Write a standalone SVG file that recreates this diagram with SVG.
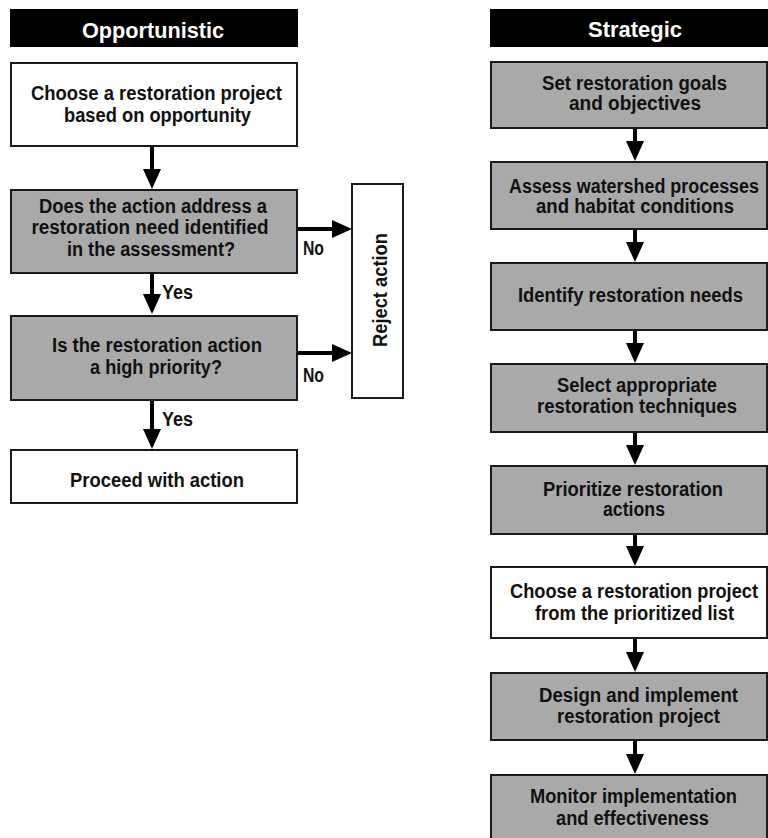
<svg xmlns="http://www.w3.org/2000/svg" width="768" height="838" viewBox="0 0 768 838">
  <style>
    text { font-family: "Liberation Sans", Arial, sans-serif; font-weight: bold; font-size: 20px; fill: #111; }
    .hdr-bg { fill: #000; }
    .hdr { fill: #fff; font-size: 22.5px; text-anchor: middle; }
    .box { stroke: #1a1a1a; stroke-width: 2; }
    .white { fill: #fff; }
    .gray { fill: #a9a9a9; }
    .c { text-anchor: middle; }
    .conn { stroke: #000; stroke-width: 4; fill: none; }
  </style>
  <defs>
    <marker id="arrow" viewBox="0 0 20 18" markerWidth="20" markerHeight="18" refX="1" refY="9" orient="auto" markerUnits="userSpaceOnUse">
      <path d="M0,0 L20,9 L0,18 Z" fill="#000"/>
    </marker>
  </defs>
  <rect width="768" height="838" fill="#fff"/>

  <!-- column headers -->
  <g id="hdr-opportunistic">
    <rect class="hdr-bg" x="10" y="9" width="288" height="38"/>
    <text class="hdr" x="153" y="38" textLength="142" lengthAdjust="spacingAndGlyphs">Opportunistic</text>
  </g>
  <g id="hdr-strategic">
    <rect class="hdr-bg" x="490" y="9" width="278" height="38"/>
    <text class="hdr" x="635" y="37" textLength="94" lengthAdjust="spacingAndGlyphs">Strategic</text>
  </g>

  <!-- connectors -->
  <g id="connectors">
    <line class="conn" x1="152" y1="146" x2="152" y2="170" marker-end="url(#arrow)"/>
    <line class="conn" x1="152" y1="273" x2="152" y2="295" marker-end="url(#arrow)"/>
    <line class="conn" x1="152" y1="400" x2="152" y2="430" marker-end="url(#arrow)"/>
    <line class="conn" x1="297" y1="229" x2="333" y2="229" marker-end="url(#arrow)"/>
    <line class="conn" x1="297" y1="353" x2="333" y2="353" marker-end="url(#arrow)"/>
    <text x="303" y="255" textLength="21" lengthAdjust="spacingAndGlyphs">No</text>
    <text x="303" y="382" textLength="21" lengthAdjust="spacingAndGlyphs">No</text>
    <text x="162" y="299" textLength="31" lengthAdjust="spacingAndGlyphs">Yes</text>
    <text x="162" y="426" textLength="31" lengthAdjust="spacingAndGlyphs">Yes</text>

    <line class="conn" x1="635" y1="128" x2="635" y2="142" marker-end="url(#arrow)"/>
    <line class="conn" x1="635" y1="229" x2="635" y2="243" marker-end="url(#arrow)"/>
    <line class="conn" x1="635" y1="330" x2="635" y2="344" marker-end="url(#arrow)"/>
    <line class="conn" x1="635" y1="432" x2="635" y2="446" marker-end="url(#arrow)"/>
    <line class="conn" x1="635" y1="534" x2="635" y2="547" marker-end="url(#arrow)"/>
    <line class="conn" x1="635" y1="638" x2="635" y2="653" marker-end="url(#arrow)"/>
    <line class="conn" x1="635" y1="740" x2="635" y2="755" marker-end="url(#arrow)"/>
  </g>

  <!-- opportunistic column -->
  <g id="o-choose">
    <rect class="box white" x="11" y="63" width="286" height="83"/>
    <text class="c" x="156.5" y="100" textLength="251" lengthAdjust="spacingAndGlyphs">Choose a restoration project</text>
    <text class="c" x="157.5" y="122" textLength="187" lengthAdjust="spacingAndGlyphs">based on opportunity</text>
  </g>
  <g id="o-address">
    <rect class="box gray" x="11" y="190" width="286" height="83"/>
    <text class="c" x="153" y="213" textLength="228" lengthAdjust="spacingAndGlyphs">Does the action address a</text>
    <text class="c" x="150" y="234" textLength="237" lengthAdjust="spacingAndGlyphs">restoration need identified</text>
    <text class="c" x="151" y="256" textLength="168" lengthAdjust="spacingAndGlyphs">in the assessment?</text>
  </g>
  <g id="o-priority">
    <rect class="box gray" x="11" y="316" width="286" height="84"/>
    <text class="c" x="157" y="352" textLength="210" lengthAdjust="spacingAndGlyphs">Is the restoration action</text>
    <text class="c" x="156" y="374" textLength="132" lengthAdjust="spacingAndGlyphs">a high priority?</text>
  </g>
  <g id="o-proceed">
    <rect class="box white" x="11" y="450" width="286" height="53"/>
    <text class="c" x="157" y="487" textLength="174" lengthAdjust="spacingAndGlyphs">Proceed with action</text>
  </g>
  <g id="o-reject">
    <rect class="box white" x="352" y="184" width="51" height="214"/>
    <text class="c" transform="translate(387 290) rotate(-90)" x="0" y="0" textLength="114" lengthAdjust="spacingAndGlyphs">Reject action</text>
  </g>

  <!-- strategic column -->
  <g id="s-goals">
    <rect class="box gray" x="491" y="62" width="276" height="66"/>
    <text class="c" x="634.5" y="90" textLength="185" lengthAdjust="spacingAndGlyphs">Set restoration goals</text>
    <text class="c" x="635" y="110" textLength="132" lengthAdjust="spacingAndGlyphs">and objectives</text>
  </g>
  <g id="s-assess">
    <rect class="box gray" x="491" y="162" width="276" height="67"/>
    <text class="c" x="634" y="193" textLength="250" lengthAdjust="spacingAndGlyphs">Assess watershed processes</text>
    <text class="c" x="635" y="213" textLength="198" lengthAdjust="spacingAndGlyphs">and habitat conditions</text>
  </g>
  <g id="s-needs">
    <rect class="box gray" x="491" y="263" width="276" height="67"/>
    <text class="c" x="630.5" y="302" textLength="225" lengthAdjust="spacingAndGlyphs">Identify restoration needs</text>
  </g>
  <g id="s-techniques">
    <rect class="box gray" x="491" y="364" width="276" height="68"/>
    <text class="c" x="637" y="392" textLength="160" lengthAdjust="spacingAndGlyphs">Select appropriate</text>
    <text class="c" x="637" y="413" textLength="200" lengthAdjust="spacingAndGlyphs">restoration techniques</text>
  </g>
  <g id="s-prioritize">
    <rect class="box gray" x="491" y="466" width="276" height="68"/>
    <text class="c" x="633" y="496" textLength="180" lengthAdjust="spacingAndGlyphs">Prioritize restoration</text>
    <text class="c" x="634" y="516" textLength="62" lengthAdjust="spacingAndGlyphs">actions</text>
  </g>
  <g id="s-choose">
    <rect class="box white" x="491" y="567" width="276" height="71"/>
    <text class="c" x="634" y="598" textLength="248" lengthAdjust="spacingAndGlyphs">Choose a restoration project</text>
    <text class="c" x="634.5" y="620" textLength="199" lengthAdjust="spacingAndGlyphs">from the prioritized list</text>
  </g>
  <g id="s-design">
    <rect class="box gray" x="491" y="673" width="276" height="67"/>
    <text class="c" x="638.5" y="702" textLength="199" lengthAdjust="spacingAndGlyphs">Design and implement</text>
    <text class="c" x="638.5" y="723" textLength="163" lengthAdjust="spacingAndGlyphs">restoration project</text>
  </g>
  <g id="s-monitor">
    <rect class="box gray" x="491" y="775" width="276" height="75"/>
    <text class="c" x="633.5" y="803" textLength="207" lengthAdjust="spacingAndGlyphs">Monitor implementation</text>
    <text class="c" x="632.5" y="825" textLength="153" lengthAdjust="spacingAndGlyphs">and effectiveness</text>
  </g>
</svg>
